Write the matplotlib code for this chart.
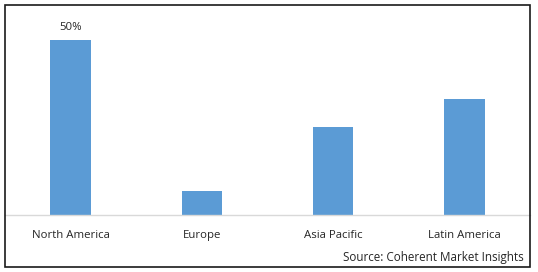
import matplotlib
matplotlib.use('Agg')
import matplotlib.pyplot as plt
from matplotlib.patches import Rectangle

regions = ['North America', 'Europe', 'Asia Pacific', 'Latin America']
shares = [50, 7, 25, 33]
labels = ['50%', '', '', '']

W, H = 538, 272
fig = plt.figure(figsize=(W / 100, H / 100), dpi=100)
plt.rcParams['font.family'] = ['Open Sans', 'DejaVu Sans']

# figure border
fig.patches.append(Rectangle((5 / W, 5 / H), 525 / W, 262 / H, transform=fig.transFigure,
                             fill=False, edgecolor='#1a1a1a', linewidth=1.2))

# axes: x from 5 to 530 px, baseline at y=215 px
ax = fig.add_axes([5 / W, (H - 215) / H, 525 / W, 205 / H])
ymax = 50 * 205 / 175
x = range(len(regions))
bars = ax.bar(x, shares, width=0.31, color='#5B9BD5')
ax.set_xlim(-0.5, len(regions) - 0.5)
ax.set_ylim(0, ymax)

for b, lab in zip(bars, labels):
    if lab:
        ax.text(b.get_x() + b.get_width() / 2, b.get_height() + 2.0, lab,
                ha='center', va='bottom', fontsize=8.2, color='#262626')

for s in ['top', 'right', 'left']:
    ax.spines[s].set_visible(False)
ax.spines['bottom'].set_color('#D9D9D9')
ax.spines['bottom'].set_linewidth(1)
ax.set_yticks([])
ax.set_xticks(list(x))
ax.set_xticklabels(regions, fontsize=8.2, color='#262626')
ax.tick_params(axis='x', length=0, pad=11)

fig.text(524 / W, (H - 257) / H, 'Source: Coherent Market Insights', ha='right', va='center',
         fontsize=8.4, color='#262626')

fig.savefig('out.png', dpi=100)
